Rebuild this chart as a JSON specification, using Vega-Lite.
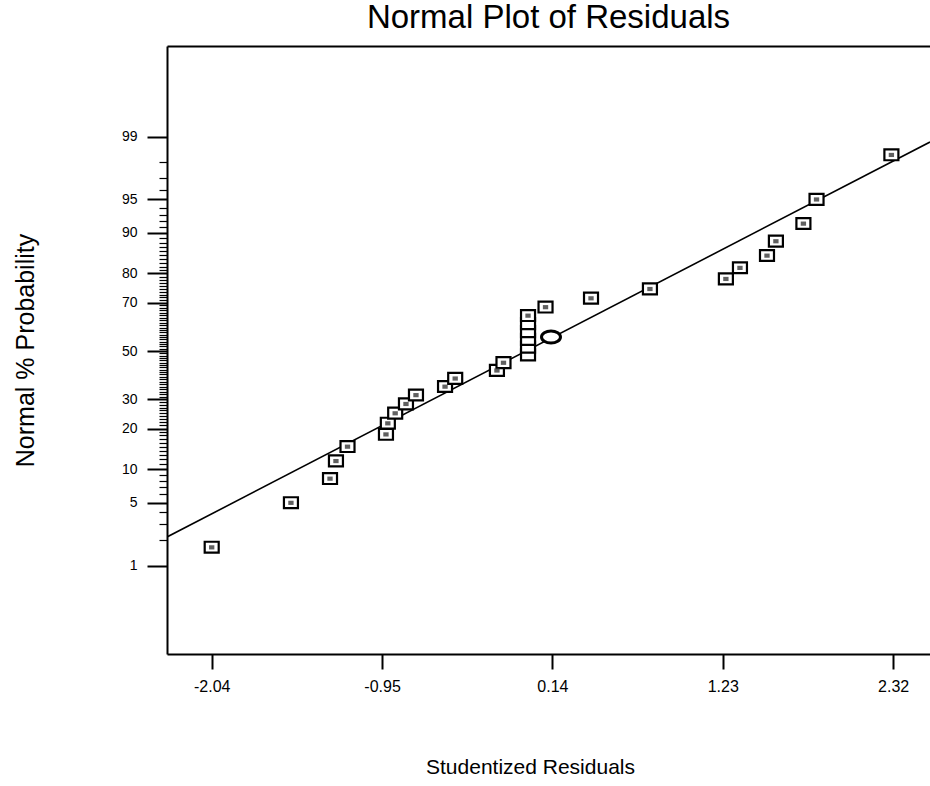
{
  "$schema": "https://vega.github.io/schema/vega-lite/v6.json",
  "autosize": "none",
  "width": 763,
  "height": 608,
  "padding": {"left": 167, "top": 46, "right": 0, "bottom": 132},
  "background": "white",
  "config": {"view": {"stroke": null}, "font": "Liberation Sans"},
  "title": {"text": "Normal Plot of Residuals", "fontSize": 33, "fontWeight": "normal", "color": "black", "anchor": "middle", "offset": 11},
  "resolve": {"axis": {"x": "independent", "y": "independent"}},
  "datasets": {
    "residuals": [
      {"x": -2.04, "z": -2.128}, {"x": -1.533, "z": -1.645}, {"x": -1.283, "z": -1.383}, {"x": -1.245, "z": -1.192},
      {"x": -1.171, "z": -1.036}, {"x": -0.925, "z": -0.903}, {"x": -0.913, "z": -0.783}, {"x": -0.866, "z": -0.674},
      {"x": -0.797, "z": -0.573}, {"x": -0.733, "z": -0.477}, {"x": -0.547, "z": -0.385}, {"x": -0.482, "z": -0.297},
      {"x": -0.215, "z": -0.21}, {"x": -0.173, "z": -0.126}, {"x": -0.016, "z": -0.042}, {"x": -0.016, "z": 0.042},
      {"x": -0.016, "z": 0.126}, {"x": -0.016, "z": 0.21}, {"x": -0.016, "z": 0.297}, {"x": -0.016, "z": 0.385},
      {"x": 0.096, "z": 0.477}, {"x": 0.387, "z": 0.573}, {"x": 0.764, "z": 0.674}, {"x": 1.25, "z": 0.783},
      {"x": 1.34, "z": 0.903}, {"x": 1.513, "z": 1.036}, {"x": 1.57, "z": 1.192}, {"x": 1.746, "z": 1.383},
      {"x": 1.83, "z": 1.645}, {"x": 2.309, "z": 2.128}
    ],
    "labelled": [
      {"x": -2.04, "z": -2.128}, {"x": -1.533, "z": -1.645}, {"x": -1.283, "z": -1.383}, {"x": -1.245, "z": -1.192},
      {"x": -1.171, "z": -1.036}, {"x": -0.925, "z": -0.903}, {"x": -0.913, "z": -0.783}, {"x": -0.866, "z": -0.674},
      {"x": -0.797, "z": -0.573}, {"x": -0.733, "z": -0.477}, {"x": -0.547, "z": -0.385}, {"x": -0.482, "z": -0.297},
      {"x": -0.215, "z": -0.21}, {"x": -0.173, "z": -0.126}, {"x": -0.016, "z": 0.385},
      {"x": 0.096, "z": 0.477}, {"x": 0.387, "z": 0.573}, {"x": 0.764, "z": 0.674}, {"x": 1.25, "z": 0.783},
      {"x": 1.34, "z": 0.903}, {"x": 1.513, "z": 1.036}, {"x": 1.57, "z": 1.192}, {"x": 1.746, "z": 1.383},
      {"x": 1.83, "z": 1.645}, {"x": 2.309, "z": 2.128}
    ]
  },
  "layer": [
    {
      "data": {"values": [{"x": -2.326, "z": -2.017}, {"x": 2.556, "z": 2.267}]},
      "mark": {"type": "line", "color": "black", "strokeWidth": 1.6, "clip": true},
      "encoding": {
        "x": {"field": "x", "type": "quantitative", "scale": {"domain": [-2.326, 2.556], "nice": false, "zero": false},
              "axis": {"orient": "top", "labels": false, "ticks": false, "title": null, "grid": false, "domain": true, "domainColor": "black", "domainWidth": 2}},
        "y": {"field": "z", "type": "quantitative", "scale": {"domain": [-3.286, 3.308], "nice": false, "zero": false}, "axis": null}
      }
    },
    {
      "data": {"name": "residuals"},
      "mark": {"type": "point", "shape": "M-1,-0.78H1V0.78H-1Z", "size": 196, "filled": true, "fill": "white", "stroke": "black", "strokeWidth": 2.2, "opacity": 1},
      "encoding": {
        "x": {"field": "x", "type": "quantitative", "scale": {"domain": [-2.326, 2.556], "nice": false, "zero": false},
              "axis": {"values": [-2.04, -0.95, 0.14, 1.23, 2.32], "labelExpr": "(datum.value < 0 ? '-' : '') + format(abs(datum.value), '.2f')", "grid": false, "tickSize": 15, "tickWidth": 2, "tickColor": "black",
                       "domainColor": "black", "domainWidth": 2, "labelFontSize": 16, "labelColor": "black", "labelPadding": 9,
                       "title": "Studentized Residuals", "titleFontSize": 21, "titleFontWeight": "normal", "titleColor": "black", "titlePadding": 62, "titleX": 363}},
        "y": {"field": "z", "type": "quantitative", "scale": {"domain": [-3.286, 3.308], "nice": false, "zero": false},
              "axis": {"values": [-2.3263, -1.6449, -1.2816, -0.8416, -0.5244, 0, 0.5244, 0.8416, 1.2816, 1.6449, 2.3263],
                       "labelExpr": "'' + round(cumulativeNormal(datum.value)*100)",
                       "tickSize": 20, "tickWidth": 2, "tickColor": "black", "grid": false, "domainColor": "black", "domainWidth": 2,
                       "labelFontSize": 14, "labelColor": "black", "labelPadding": 10, "labelOverlap": false, "labelBound": false,
                       "title": "Normal % Probability", "titleFontSize": 25, "titleFontWeight": "normal", "titleColor": "black", "titlePadding": 83}}
      }
    },
    {
      "data": {"name": "labelled"},
      "mark": {"type": "point", "shape": "M-0.38,-0.28H0.38V0.32H-0.38Z", "size": 196, "filled": true, "color": "#444444", "opacity": 0.85},
      "encoding": {
        "x": {"field": "x", "type": "quantitative", "axis": null},
        "y": {"field": "z", "type": "quantitative", "axis": null}
      }
    },
    {
      "data": {"values": [{"x": 0.131, "z": 0.152}]},
      "mark": {"type": "point", "shape": "M-1,0A1,0.64 0 1,1 1,0A1,0.64 0 1,1 -1,0Z", "size": 361, "filled": true, "fill": "white", "stroke": "black", "strokeWidth": 3, "opacity": 1},
      "encoding": {
        "x": {"field": "x", "type": "quantitative", "axis": null},
        "y": {"field": "z", "type": "quantitative",
              "axis": {"values": [-2.0537, -1.8808, -1.7507, -1.5548, -1.4758, -1.4051, -1.3408, -1.2265, -1.175, -1.1264, -1.0803, -1.0364, -0.9945, -0.9542, -0.9154, -0.8779, -0.8064, -0.7722, -0.7388, -0.7063, -0.6745, -0.6433, -0.6128, -0.5828, -0.5534, -0.4959, -0.4677, -0.4399, -0.4125, -0.3853, -0.3585, -0.3319, -0.3055, -0.2793, -0.2533, -0.2275, -0.2019, -0.1764, -0.151, -0.1257, -0.1004, -0.0753, -0.0502, -0.0251, 0.0251, 0.0502, 0.0753, 0.1004, 0.1257, 0.151, 0.1764, 0.2019, 0.2275, 0.2533, 0.2793, 0.3055, 0.3319, 0.3585, 0.3853, 0.4125, 0.4399, 0.4677, 0.4959, 0.5534, 0.5828, 0.6128, 0.6433, 0.6745, 0.7063, 0.7388, 0.7722, 0.8064, 0.8779, 0.9154, 0.9542, 0.9945, 1.0364, 1.0803, 1.1264, 1.175, 1.2265, 1.3408, 1.4051, 1.4758, 1.5548, 1.7507, 1.8808, 2.0537],
                       "labels": false, "title": null, "grid": false, "domain": false, "tickSize": 8, "tickWidth": 1.2, "tickColor": "black", "orient": "left"}}
      }
    }
  ]
}
